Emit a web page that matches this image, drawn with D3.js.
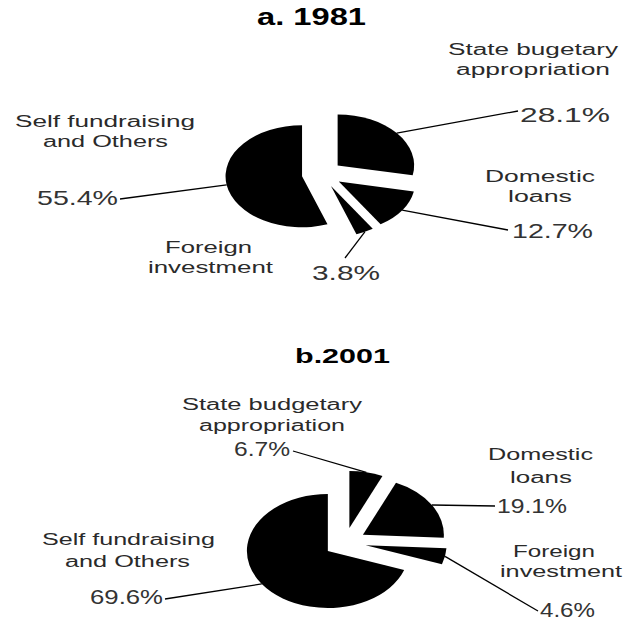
<!DOCTYPE html>
<html>
<head>
<meta charset="utf-8">
<style>
  body { margin: 0; background: white; }
  svg { font-family: 'Liberation Sans', Arial, sans-serif; }
  .name { fill: #2a2a2a; font-size: 16px; }
  .pct { fill: #333; font-size: 21px; }
  .title { fill: #000; font-weight: bold; }
  .leader { stroke: #000; stroke-width: 1.3px; fill: none; }
</style>
</head>
<body>
<script src="https://cdn.jsdelivr.net/npm/d3@7"></script>
<script>

// data
var titles = ["a. 1981", "b.2001"];
var namesA = [["State bugetary", "appropriation"], ["Domestic", "loans"], ["Foreign", "investment"], ["Self fundraising", "and Others"]];
var valuesA = [28.1, 12.7, 3.8, 55.4];
var namesB = [["State budgetary", "appropriation"], ["Domestic", "loans"], ["Foreign", "investment"], ["Self fundraising", "and Others"]];
var valuesB = [6.7, 19.1, 4.6, 69.6];

var width = 623, height = 622;

// layout of each panel: pie centre, radius, horizontal stretch, explode distance
// labels: [left x, baseline y, width] for each name line and the percentage, end of leader line
var layout = [
  {
    cx: 322, cy: 174, r: 51, sx: 1.5, explode: 13.5,
    title: { x: 257, y: 25, w: 109, size: 23 },
    labels: [
      { lines: [[448, 55, 170], [456, 75, 154]], pct: [520, 122, 90], end: [518, 111] },
      { lines: [[485, 182, 110], [508, 202, 64]], pct: [512, 238, 81], end: [508, 230] },
      { lines: [[165, 253, 87], [148, 273, 125]], pct: [312, 280, 68], end: [345, 258] },
      { lines: [[15, 127, 180], [43, 147, 125]], pct: [37, 205, 81], end: [120, 199] }
    ]
  },
  {
    cx: 345, cy: 542.5, r: 57, sx: 1.42, explode: 14.8,
    title: { x: 295, y: 363, w: 95, size: 21 },
    labels: [
      { lines: [[182, 410, 180], [199, 431, 146]], pct: [234, 456, 56], end: [293, 451] },
      { lines: [[488, 460, 105], [510, 483, 62]], pct: [497, 513, 70], end: [495, 506] },
      { lines: [[513, 557, 82], [500, 577, 122]], pct: [540, 617, 55], end: [538, 611] },
      { lines: [[42, 545, 173], [65, 567, 125]], pct: [90, 604, 73], end: [165, 599] }
    ]
  }
];

var svg = d3.select("body").append("svg")
    .attr("width", width)
    .attr("height", height);

var pie = d3.pie().sort(null).value(function(d) { return d; });
var fmt = d3.format(".1f");

function drawPanel(values, names, title, lay) {
  var arcs = pie(values);
  var arc = d3.arc().innerRadius(0).outerRadius(lay.r);

  // title
  svg.append("text")
    .attr("class", "title")
    .attr("x", lay.title.x)
    .attr("y", lay.title.y)
    .style("font-size", lay.title.size + "px")
    .attr("textLength", lay.title.w)
    .attr("lengthAdjust", "spacingAndGlyphs")
    .text(title);

  // pie drawn as a circle, stretched horizontally like the picture
  var g = svg.append("g")
    .attr("transform", "translate(" + lay.cx + "," + lay.cy + ") scale(" + lay.sx + ",1)");

  g.selectAll("path.slice")
    .data(arcs)
    .enter().append("path")
      .attr("class", "slice")
      .attr("fill", "#000")
      .attr("transform", function(d) {
        var a = (d.startAngle + d.endAngle) / 2;
        return "translate(" + (Math.sin(a) * lay.explode) + "," + (-Math.cos(a) * lay.explode) + ")";
      })
      .attr("d", arc);

  // leader lines from the rim of each slice to its label
  arcs.forEach(function(d, i) {
    var a = (d.startAngle + d.endAngle) / 2;
    var rr = lay.explode + lay.r;
    var x0 = lay.cx + lay.sx * Math.sin(a) * rr,
        y0 = lay.cy - Math.cos(a) * rr;
    var lab = lay.labels[i];
    svg.append("line")
      .attr("class", "leader")
      .attr("x1", x0).attr("y1", y0)
      .attr("x2", lab.end[0]).attr("y2", lab.end[1]);

    names[i].forEach(function(t, j) {
      svg.append("text")
        .attr("class", "name")
        .attr("x", lab.lines[j][0])
        .attr("y", lab.lines[j][1])
        .attr("textLength", lab.lines[j][2])
        .attr("lengthAdjust", "spacingAndGlyphs")
        .text(t);
    });

    svg.append("text")
      .attr("class", "pct")
      .attr("x", lab.pct[0])
      .attr("y", lab.pct[1])
      .attr("textLength", lab.pct[2])
      .attr("lengthAdjust", "spacingAndGlyphs")
      .text(fmt(values[i]) + "%");
  });
}

drawPanel(valuesA, namesA, titles[0], layout[0]);
drawPanel(valuesB, namesB, titles[1], layout[1]);

</script>
</body>
</html>
